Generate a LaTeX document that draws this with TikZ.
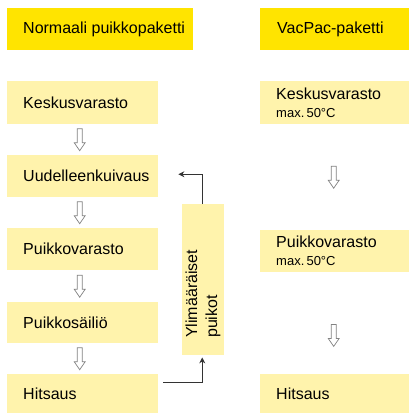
\documentclass[tikz,border=0pt]{standalone}
\usepackage{fontspec}
\setmainfont{Liberation Sans}
\usetikzlibrary{calc,arrows.meta}
\definecolor{hdr}{RGB}{255,228,0}
\definecolor{lite}{RGB}{255,243,172}
\definecolor{arrg}{RGB}{130,130,130}
\tikzset{
  hdrbox/.style={fill=hdr, anchor=north west, minimum height=42pt, inner sep=0pt},
  hdrtext/.style={anchor=west, inner sep=0pt, font=\fontsize{16}{19}\selectfont},
  litebox/.style={fill=lite, anchor=north west, minimum height=43pt, inner xsep=16pt, inner ysep=0pt, align=left, font=\fontsize{16}{19}\selectfont},
  leftw/.style={text width=119pt},
  rightw/.style={text width=117pt},
  conn/.style={draw=black!80, line width=0.9pt, -{Stealth[length=6pt,width=6pt]}},
  hollow/.pic={\draw[arrg, fill=white, line width=0.7pt, line join=miter] (-2.5,-11) -- (2.5,-11) -- (2.5,3) -- (5.5,3) -- (0,11) -- (-5.5,3) -- (-2.5,3) -- cycle;}
}
\begin{document}
\begin{tikzpicture}[x=1pt,y=-1pt]
\useasboundingbox (0,0) rectangle (409,413);
% headers
\node[hdrbox, minimum width=186pt] (h1) at (7,8) {};
\node[hdrtext] (h1t) at ($(h1.west)+(16,0)$) {Normaali puikkopaketti};
\node[hdrbox, minimum width=149pt] (h2) at (260,8) {};
\node[hdrtext] (h2t) at ($(h2.west)+(17,0)$) {VacPac-paketti};
% left column
\node[litebox, leftw] (k1) at (7,81) {Keskusvarasto};
\node[litebox, leftw, minimum height=42pt] (u1) at (7,155) {Uudelleenkuivaus};
\node[litebox, leftw, minimum height=42pt] (p1) at (7,228) {Puikkovarasto};
\node[litebox, leftw, minimum height=41pt] (s1) at (7,302) {Puikkosäiliö};
\node[litebox, leftw, minimum height=39pt] (ht1) at (7,374) {Hitsaus};
% right column
\node[litebox, rightw] (k2) at (260,81) {Keskusvarasto\\[-1pt]{\fontsize{13}{16}\selectfont max.\,50°C}};
\node[litebox, rightw, minimum height=42pt] (p2) at (260,230) {Puikkovarasto\\[-1pt]{\fontsize{13}{16}\selectfont max.\,50°C}};
\node[litebox, rightw, minimum height=39pt] (ht2) at (260,374) {Hitsaus};
% extra box
\node[fill=lite, anchor=north west, minimum width=42pt, minimum height=151pt, inner sep=0pt] (y) at (182,204) {};
\node[rotate=90, anchor=west, align=left, inner sep=0pt, font=\fontsize{16}{20}\selectfont] (yt) at (203,338) {Ylimääräiset\\puikot};
% hollow arrows
\pic at ($(k1.south)!0.5!(u1.north)+(-3,0)$) {hollow};
\pic at ($(u1.south)!0.5!(p1.north)+(-3,0)$) {hollow};
\pic at ($(p1.south)!0.5!(s1.north)+(-3,0)$) {hollow};
\pic at ($(s1.south)!0.5!(ht1.north)+(-3,0)$) {hollow};
\pic at ($(k2.south)!0.5!(p2.north)+(-1,0)$) {hollow};
\pic at ($(p2.south)+(-1,63)$) {hollow};
% connectors
\coordinate (hs) at ($(ht1.east)+(5,-11)$);
\draw[conn, shorten >=2pt] (hs) -| ([xshift=-1pt]y.south);
\coordinate (ut) at ($(u1.east)+(20,-2)$);
\draw[conn] ([xshift=-1pt]y.north) |- (ut);
\end{tikzpicture}
\end{document}
